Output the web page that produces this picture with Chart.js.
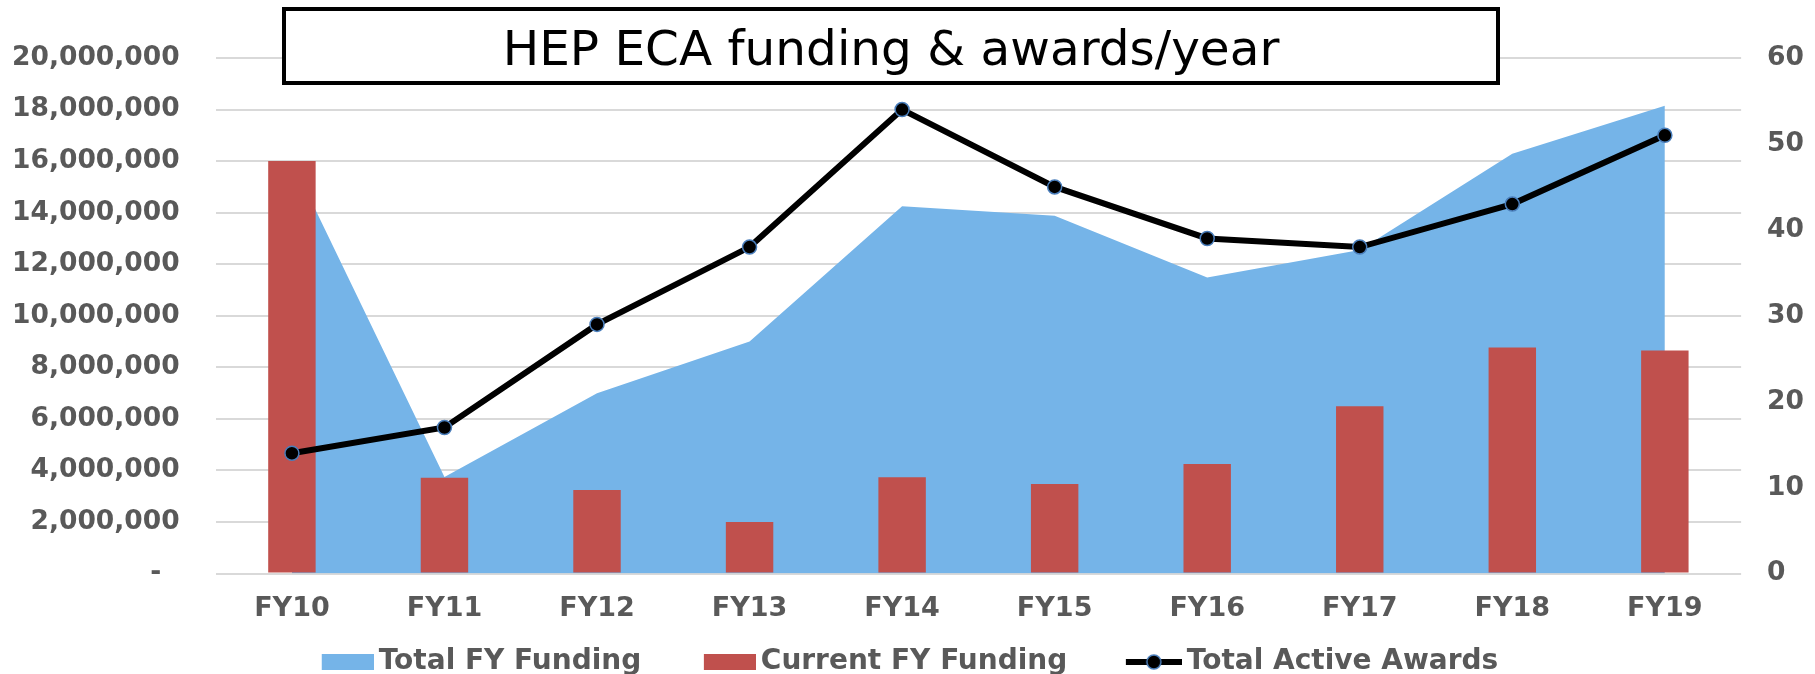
<!DOCTYPE html>
<html>
<head>
<meta charset="utf-8">
<title>HEP ECA funding & awards/year</title>
<script src="https://cdn.jsdelivr.net/npm/chart.js@4/dist/chart.umd.min.js"></script>
<style>
  html, body { margin: 0; padding: 0; background: #fff; overflow: hidden; }
  canvas { display: block; }
</style>
</head>
<body>
<canvas id="eca-chart" width="1815" height="686"></canvas>
<script>
// values
const years = ['FY10', 'FY11', 'FY12', 'FY13', 'FY14', 'FY15', 'FY16', 'FY17', 'FY18', 'FY19'];
const totalFunding = [16000000, 3750000, 7000000, 9000000, 14250000, 13880000, 11490000, 12550000, 16290000, 18150000];
const currentFunding = [16000000, 3720000, 3240000, 2000000, 3740000, 3480000, 4250000, 6490000, 8770000, 8650000];
const activeAwards = [14, 17, 29, 38, 54, 45, 39, 38, 43, 51];
const seriesNames = ['Total FY Funding', 'Current FY Funding', 'Total Active Awards'];
const titleText = 'HEP ECA funding & awards/year';

const BLUE = '#75b4e8', RED = '#c0504d', GREY = '#595959';
const LEG_BW = 43;

(function(){
    Chart.defaults.font.family = '"DejaVu Sans", Verdana, sans-serif';
    Chart.defaults.color = GREY;

    // legend icons: transparent lead-in on the left so the swatch sits close to its text
    function swatch(color){
        const c = document.createElement('canvas');
        c.width = LEG_BW + 18; c.height = 16;
        const g = c.getContext('2d');
        g.fillStyle = color;
        g.fillRect(c.width - 52, 0, 52, 16);
        return c;
    }
    function lineIcon(){
        const c = document.createElement('canvas');
        c.width = LEG_BW + 18; c.height = 20;
        const g = c.getContext('2d');
        g.strokeStyle = '#000'; g.lineWidth = 6;
        g.beginPath(); g.moveTo(5, 10); g.lineTo(c.width, 10); g.stroke();
        g.beginPath(); g.arc(33, 10, 7, 0, Math.PI * 2);
        g.fillStyle = '#000'; g.fill();
        g.lineWidth = 1.5; g.strokeStyle = '#4a7ebb'; g.stroke();
        return c;
    }
    const legendIcons = [swatch(BLUE), swatch(RED), lineIcon()];

    function fmtMoney(v){
        if (v === 0) return '-  ';
        return String(v).replace(/\B(?=(\d{3})+(?!\d))/g, ',');
    }

    // boxed title sitting over the top of the plot
    const titleBox = {
        id: 'titleBox',
        afterLayout(chart){
            // nudge the centred legend a few px right
            chart.legend.left += 7; chart.legend.right += 7;
        },
        afterDraw(chart){
            const ctx = chart.ctx;
            ctx.save();
            ctx.fillStyle = '#fff';
            ctx.fillRect(284, 9, 1214, 74);
            ctx.lineWidth = 4;
            ctx.strokeStyle = '#000';
            ctx.strokeRect(284, 9, 1214, 74);
            ctx.fillStyle = '#000';
            ctx.font = '48.5px "DejaVu Sans", Verdana, sans-serif';
            ctx.textAlign = 'center';
            ctx.textBaseline = 'middle';
            ctx.fillText(titleText, 891, 52);
            ctx.restore();
        }
    };

    new Chart(document.getElementById('eca-chart'), {
        data: {
            labels: years,
            datasets: [
                { type: 'line', label: seriesNames[0], data: totalFunding, yAxisID: 'y', order: 2,
                  fill: 'origin', backgroundColor: BLUE, borderColor: BLUE, borderWidth: 0,
                  pointRadius: 0, tension: 0 },
                { type: 'bar', label: seriesNames[1], data: currentFunding, yAxisID: 'y', order: 1,
                  backgroundColor: RED, categoryPercentage: 1, barPercentage: 0.311 },
                { type: 'line', label: seriesNames[2], data: activeAwards, yAxisID: 'y1', order: 0,
                  borderColor: '#000', borderWidth: 6, fill: false, tension: 0,
                  pointRadius: 7, pointBackgroundColor: '#000', pointBorderColor: '#4a7ebb', pointBorderWidth: 1.5 }
            ]
        },
        options: {
            responsive: false,
            animation: false,
            layout: { padding: { top: 58, left: -24, right: -15, bottom: 0 } },
            plugins: {
                title: { display: false },
                tooltip: { enabled: false },
                legend: {
                    position: 'bottom',
                    labels: {
                        usePointStyle: true,
                        pointStyleWidth: LEG_BW,
                        boxHeight: 16,
                        padding: 4,
                        color: GREY,
                        font: { size: 28, weight: 'bold' },
                        generateLabels(chart){
                            const items = Chart.defaults.plugins.legend.labels.generateLabels(chart);
                            items.sort((a, b) => a.datasetIndex - b.datasetIndex);
                            items.forEach(it => {
                                it.pointStyle = legendIcons[it.datasetIndex];
                                if (it.datasetIndex < 2) it.text += '      ';
                            });
                            return items;
                        }
                    }
                }
            },
            scales: {
                x: {
                    offset: true,
                    grid: { display: false, drawTicks: false },
                    border: { display: false },
                    ticks: { padding: 19, color: GREY, font: { size: 27, weight: 'bold' } }
                },
                y: {
                    position: 'left',
                    min: 0, max: 20000000,
                    grid: { color: '#d9d9d9', lineWidth: 2, drawTicks: false },
                    border: { display: false },
                    ticks: { stepSize: 2000000, padding: 36, color: GREY, font: { size: 26.5, weight: 'bold' }, callback: fmtMoney }
                },
                y1: {
                    position: 'right',
                    min: 0, max: 60,
                    grid: { display: false, drawTicks: false },
                    border: { display: false },
                    ticks: { stepSize: 10, padding: 26, color: GREY, font: { size: 26.5, weight: 'bold' } }
                }
            }
        },
        plugins: [titleBox]
    });
})();
</script>
</body>
</html>
